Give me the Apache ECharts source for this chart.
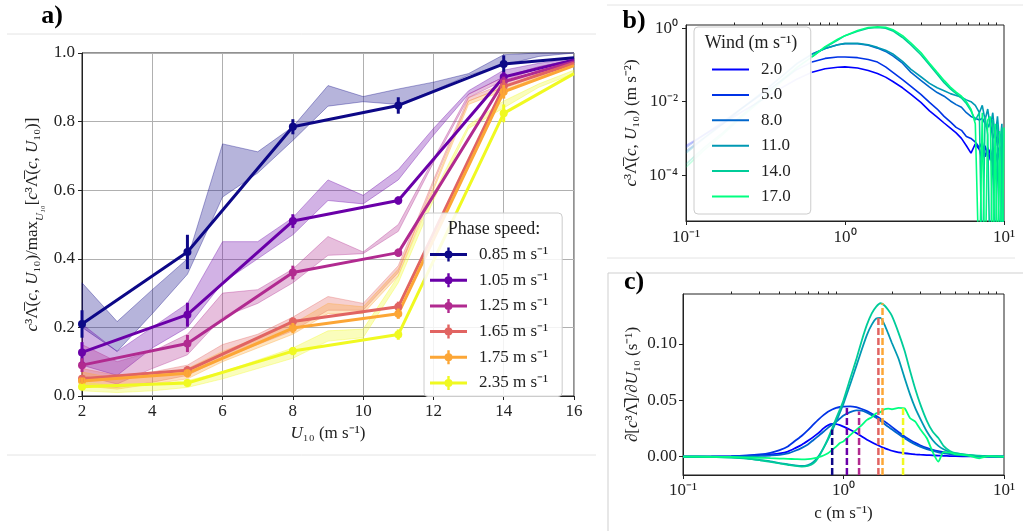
<!DOCTYPE html>
<html>
<head>
<meta charset="UTF-8">
<title>Breaking spectra vs wind</title>
<script src="https://cdn.jsdelivr.net/npm/echarts@6/dist/echarts.min.js"></script>
<style>
  html, body { margin: 0; padding: 0; background: #fff; }
  #main { width: 1023px; height: 531px; }
</style>
</head>
<body>
<div id="main"></div>
<script type="text/javascript">
var FONT = 'Liberation Serif';
var TXT = '#222';
var LAM = '\u039B\u0305';

// ---------- panel a: normalised c^3 Lambda against U10 ----------
var windPts = [2, 5, 8, 11, 14, 16];
var bandX = [2, 3, 4, 5, 6, 7, 8, 9, 10, 11, 12, 13, 14, 15, 16];
var phaseNames = ['0.85 m s⁻¹', '1.05 m s⁻¹', '1.25 m s⁻¹', '1.65 m s⁻¹', '1.75 m s⁻¹', '2.35 m s⁻¹'];
var phaseColors = ['#0d0887', '#6a00a8', '#b12a90', '#e16462', '#fca636', '#f0f921'];

var mean085 = [0.21, 0.42, 0.785, 0.847, 0.968, 0.986];
var mean105 = [0.127, 0.237, 0.51, 0.57, 0.93, 0.98];
var mean125 = [0.09, 0.153, 0.36, 0.418, 0.916, 0.975];
var mean165 = [0.05, 0.075, 0.217, 0.26, 0.902, 0.97];
var mean175 = [0.044, 0.066, 0.198, 0.24, 0.887, 0.963];
var mean235 = [0.027, 0.038, 0.131, 0.179, 0.824, 0.94];

var err085 = [0.04, 0.05, 0.022, 0.024, 0.025, 0];
var err105 = [0.03, 0.035, 0.02, 0.012, 0.015, 0];
var err125 = [0.02, 0.025, 0.02, 0.012, 0.015, 0];
var err165 = [0.01, 0.012, 0.012, 0.015, 0.02, 0];
var err175 = [0.01, 0.012, 0.015, 0.015, 0.02, 0];
var err235 = [0.008, 0.01, 0.012, 0.015, 0.026, 0];

var lo085 = [0.20, 0.13, 0.24, 0.355, 0.58, 0.65, 0.745, 0.845, 0.858, 0.85, 0.89, 0.935, 0.965, 0.99, 1.0];
var hi085 = [0.33, 0.217, 0.31, 0.40, 0.735, 0.712, 0.785, 0.905, 0.873, 0.895, 0.915, 0.94, 0.995, 1.0, 1.0];
var lo105 = [0.09, 0.06, 0.14, 0.20, 0.33, 0.40, 0.47, 0.57, 0.56, 0.63, 0.76, 0.88, 0.93, 0.96, 0.98];
var hi105 = [0.21, 0.13, 0.20, 0.27, 0.45, 0.45, 0.52, 0.63, 0.585, 0.66, 0.78, 0.89, 0.95, 0.97, 0.985];
var lo125 = [0.06, 0.035, 0.08, 0.12, 0.23, 0.27, 0.33, 0.41, 0.415, 0.48, 0.68, 0.87, 0.92, 0.955, 0.975];
var hi125 = [0.15, 0.10, 0.13, 0.18, 0.30, 0.31, 0.37, 0.465, 0.42, 0.50, 0.69, 0.88, 0.93, 0.96, 0.98];
var lo165 = [0.03, 0.025, 0.04, 0.06, 0.11, 0.15, 0.19, 0.25, 0.25, 0.36, 0.62, 0.86, 0.90, 0.94, 0.97];
var hi165 = [0.08, 0.06, 0.07, 0.09, 0.15, 0.18, 0.23, 0.29, 0.27, 0.38, 0.63, 0.87, 0.91, 0.95, 0.975];
var lo175 = [0.03, 0.02, 0.035, 0.05, 0.10, 0.14, 0.18, 0.24, 0.24, 0.35, 0.60, 0.85, 0.89, 0.93, 0.965];
var hi175 = [0.07, 0.05, 0.06, 0.08, 0.13, 0.17, 0.21, 0.27, 0.26, 0.37, 0.61, 0.86, 0.90, 0.94, 0.97];
var lo235 = [0.015, 0.01, 0.015, 0.025, 0.05, 0.08, 0.11, 0.16, 0.17, 0.33, 0.57, 0.78, 0.84, 0.90, 0.94];
var hi235 = [0.04, 0.03, 0.035, 0.045, 0.07, 0.105, 0.14, 0.19, 0.195, 0.35, 0.59, 0.79, 0.86, 0.91, 0.95];

// ---------- panel b: c^3 Lambda spectra (log10 of value) ----------
var windNames = ['2.0', '5.0', '8.0', '11.0', '14.0', '17.0'];
var windColors = ['#0000ff', '#0033e6', '#0066cc', '#0099b3', '#00cc99', '#00ff80'];
var cSpec = [0.1, 0.13, 0.17, 0.22, 0.3, 0.4, 0.5, 0.62, 0.75, 0.9, 1.0, 1.2, 1.4, 1.6, 1.8, 2.0, 2.3, 2.6, 3.0, 3.4,
             3.8, 4.2, 4.6, 5.0, 5.4, 5.8, 6.2, 6.6, 7.0, 7.3, 7.6, 7.9, 8.2, 8.5, 8.8, 9.1, 9.4, 9.7, 10];
var fadeEnd = 7; // points up to c = 0.62 are drawn faded
var logSpec2 = [-3.2, -2.9, -2.6, -2.3, -1.95, -1.62, -1.38, -1.2, -1.1, -1.06, -1.05, -1.08, -1.15, -1.23, -1.33, -1.45, -1.62, -1.8, -2.02, -2.25,
                -2.42, -2.58, -2.72, -2.85, -3.0, -3.2, -3.4, -3.15, -3.3, -3.6, -3.2, -3.5, -3.3, -3.8, -3.4, -3.6, -3.3, -3.9, -7];
var logSpec5 = [-3.25, -2.9, -2.55, -2.2, -1.8, -1.42, -1.12, -0.92, -0.82, -0.78, -0.78, -0.8, -0.85, -0.92, -1.05, -1.2, -1.4, -1.58, -1.8, -2.02,
                -2.2, -2.4, -2.55, -2.7, -2.78, -2.95, -3.0, -3.1, -3.25, -3.1, -3.5, -3.25, -3.6, -3.3, -3.7, -3.4, -3.2, -3.5, -7];
var logSpec8 = [-3.35, -2.98, -2.6, -2.2, -1.75, -1.3, -0.95, -0.7, -0.55, -0.45, -0.42, -0.42, -0.46, -0.54, -0.63, -0.75, -0.95, -1.2, -1.42, -1.6,
                -1.75, -1.85, -1.98, -2.08, -2.15, -2.3, -2.4, -2.45, -2.5, -2.45, -2.6, -2.7, -2.55, -3.0, -2.8, -3.2, -2.9, -7, -7];
var logSpec11 = [-3.4, -3.0, -2.62, -2.22, -1.77, -1.32, -0.97, -0.71, -0.55, -0.45, -0.41, -0.41, -0.45, -0.52, -0.6, -0.7, -0.9, -1.12, -1.32, -1.5,
                 -1.62, -1.7, -1.78, -1.83, -1.88, -1.95, -2.0, -2.1, -2.3, -2.1, -2.5, -2.2, -2.7, -2.3, -3.0, -2.4, -3.2, -2.6, -7];
var logSpec14 = [-3.7, -3.25, -2.85, -2.4, -1.9, -1.4, -1.05, -0.78, -0.52, -0.32, -0.2, -0.08, 0.0, 0.02, 0.0, -0.07, -0.25, -0.45, -0.72, -1.0,
                 -1.25, -1.48, -1.65, -1.78, -1.9, -2.05, -2.25, -2.5, -2.3, -7, -2.4, -2.9, -7, -2.5, -7, -2.6, -7, -2.7, -7];
var logSpec17 = [-3.78, -3.32, -2.9, -2.45, -1.95, -1.45, -1.08, -0.78, -0.5, -0.3, -0.2, -0.06, 0.02, 0.04, 0.03, -0.04, -0.2, -0.4, -0.66, -0.95,
                 -1.2, -1.42, -1.6, -1.74, -1.85, -2.0, -2.2, -2.6, -7, -2.3, -7, -2.5, -2.4, -7, -2.6, -7, -2.8, -7, -2.7];

// ---------- panel c: derivative with respect to U10 ----------
var cDer = [0.1, 0.15, 0.2, 0.25, 0.3, 0.35, 0.4, 0.45, 0.5, 0.55, 0.6, 0.65, 0.7, 0.75, 0.8, 0.85, 0.9, 0.95, 1.0,
            1.1, 1.2, 1.3, 1.4, 1.5, 1.6, 1.7, 1.8, 1.9, 2.0, 2.2, 2.4, 2.6, 2.8, 3.0, 3.3, 3.6, 3.9, 4.2, 4.6, 5.0, 6.0, 7.0, 8.0, 10];
var der2 = [0, 0, 0.0003, 0.0007, 0.0012, 0.002, 0.0029, 0.0045, 0.0075, 0.0105, 0.014, 0.0175, 0.021, 0.025, 0.0278, 0.029, 0.0289, 0.028, 0.0266,
            0.0238, 0.021, 0.0178, 0.015, 0.0127, 0.0107, 0.009, 0.0075, 0.0063, 0.0052, 0.0038, 0.003, 0.0024, 0.002, 0.0017, 0.0014, 0.0011, 0.0009, 0.0007, 0.0005, 0.0004, 0.0002, 0.0001, 0, 0];
var der5 = [0, 0.0001, 0.0004, 0.001, 0.0019, 0.0034, 0.0058, 0.009, 0.014, 0.0185, 0.0235, 0.0285, 0.033, 0.0368, 0.0398, 0.0418, 0.0432, 0.044, 0.0444,
            0.0446, 0.0438, 0.0422, 0.0403, 0.038, 0.036, 0.0336, 0.0311, 0.0288, 0.0264, 0.0218, 0.0178, 0.0148, 0.0122, 0.0101, 0.0077, 0.006, 0.0048, 0.004, 0.003, 0.0021, 0.001, 0.0005, 0.0002, 0];
var der8 = [0, 0, 0.0001, 0.0003, 0.0006, 0.001, 0.0015, 0.0028, 0.0052, 0.0078, 0.0108, 0.0148, 0.0185, 0.022, 0.0255, 0.0285, 0.031, 0.0338, 0.0364,
            0.0395, 0.041, 0.0408, 0.039, 0.0368, 0.0345, 0.0318, 0.029, 0.0264, 0.0242, 0.02, 0.0163, 0.0133, 0.0108, 0.0088, 0.0066, 0.005, 0.0038, 0.003, 0.0022, 0.0016, 0.0007, 0.0003, 0.0001, 0];
var der11 = [0, -0.0002, -0.0007, -0.0015, -0.003, -0.0042, -0.0057, -0.0068, -0.0078, -0.0083, -0.0075, -0.0048, 0.0005, 0.0075, 0.015, 0.023, 0.031, 0.039, 0.047,
             0.064, 0.08, 0.095, 0.108, 0.117, 0.1225, 0.123, 0.117, 0.109, 0.101, 0.087, 0.07, 0.055, 0.043, 0.034, 0.0225, 0.0145, 0.0095, 0.0065, 0.004, 0.0028, 0.0012, 0.0005, 0.0002, 0];
var der14 = [0, -0.0003, -0.0009, -0.0018, -0.0032, -0.0046, -0.006, -0.0072, -0.0083, -0.0089, -0.0082, -0.006, -0.0005, 0.0075, 0.016, 0.025, 0.034, 0.042, 0.05,
             0.069, 0.086, 0.103, 0.117, 0.127, 0.133, 0.136, 0.134, 0.13, 0.125, 0.11, 0.094, 0.076, 0.06, 0.047, 0.032, 0.022, 0.0165, 0.0095, 0.005, 0.003, 0.0015, 0.0008, 0.0003, 0];
var der17 = [0, -0.0001, -0.0003, -0.0006, -0.001, -0.0014, -0.0017, -0.002, -0.0022, -0.0024, -0.0022, -0.0016, -0.0005, 0.001, 0.003, 0.006, 0.0089, 0.012, 0.0135,
             0.019, 0.0237, 0.028, 0.0326, 0.035, 0.0385, 0.0395, 0.042, 0.0425, 0.042, 0.0432, 0.0428, 0.034, 0.031, 0.0245, 0.0165, 0.004, -0.0045, 0.004, 0.0035, 0.002, 0.001, -0.0015, 0.0005, 0];
var phaseSpeeds = [0.85, 1.05, 1.25, 1.65, 1.75, 2.35];
var phasePeaks = [0.024, 0.0444, 0.040, 0.123, 0.136, 0.043];

var cMinY = -0.0163;

// ---------- build ----------
var means = [mean085, mean105, mean125, mean165, mean175, mean235];
var errs = [err085, err105, err125, err165, err175, err235];
var los = [lo085, lo105, lo125, lo165, lo175, lo235];
var his = [hi085, hi105, hi125, hi165, hi175, hi235];
var specs = [logSpec2, logSpec5, logSpec8, logSpec11, logSpec14, logSpec17];
var ders = [der2, der5, der8, der11, der14, der17];

function sup(n) {
  var m = {'-': '⁻', '0': '⁰', '1': '¹', '2': '²', '3': '³', '4': '⁴', '5': '⁵', '6': '⁶'};
  return String(n).split('').map(function (ch) { return m[ch] || ch; }).join('');
}
function rgba(hex, a) {
  var n = parseInt(hex.slice(1), 16);
  return 'rgba(' + (n >> 16) + ',' + ((n >> 8) & 255) + ',' + (n & 255) + ',' + a + ')';
}
var minorLog = [];
[-1, 0].forEach(function (k) {
  for (var m = 2; m <= 9; m++) minorLog.push(k + Math.log10(m));
});

var series = [];
// uncertainty bands (polygon between lower and upper edges)
for (var k = 0; k < 6; k++) {
  (function (k) {
    var col = phaseColors[k];
    series.push({
      type: 'custom', name: 'band-' + k, xAxisIndex: 0, yAxisIndex: 0, z: 1, silent: true,
      data: [[bandX[0], los[k][0]]],
      renderItem: function (params, api) {
        var pts = [];
        for (var i = 0; i < bandX.length; i++) pts.push(api.coord([bandX[i], his[k][i]]));
        for (var j = bandX.length - 1; j >= 0; j--) pts.push(api.coord([bandX[j], los[k][j]]));
        return {type: 'polygon', shape: {points: pts},
                style: {fill: rgba(col, 0.3), stroke: rgba(col, 0.35), lineWidth: 1}};
      }
    });
  })(k);
}
for (var k = 0; k < 6; k++) {
  (function (k) {
    var col = phaseColors[k];
    series.push({
      type: 'line', name: phaseNames[k], xAxisIndex: 0, yAxisIndex: 0, z: 3,
      data: windPts.map(function (x, i) { return [x, means[k][i]]; }),
      symbol: 'circle',
      symbolSize: function (v, p) { return p.dataIndex === windPts.length - 1 ? 0 : 8; },
      lineStyle: {color: col, width: 3},
      itemStyle: {color: col}
    });
    series.push({
      type: 'custom', name: 'err-' + k, xAxisIndex: 0, yAxisIndex: 0, z: 4, silent: true,
      data: windPts.map(function (x, i) { return [x, means[k][i], errs[k][i]]; }),
      renderItem: function (params, api) {
        var x = api.value(0), y = api.value(1), e = api.value(2);
        var p1 = api.coord([x, y - e]), p2 = api.coord([x, y + e]);
        return {type: 'line', shape: {x1: p1[0], y1: p1[1], x2: p2[0], y2: p2[1]},
                style: {stroke: col, lineWidth: 3}};
      }
    });
  })(k);
}
// panel b spectra
for (var w = 0; w < 6; w++) {
  var pts = cSpec.map(function (c, i) { return [Math.log10(c), specs[w][i]]; });
  series.push({
    type: 'line', name: windNames[w] + ' low', xAxisIndex: 1, yAxisIndex: 1, silent: true,
    data: pts.slice(0, fadeEnd + 1), symbol: 'none',
    lineStyle: {color: windColors[w], width: 1.6, opacity: 0.22}
  });
  series.push({
    type: 'line', name: windNames[w], xAxisIndex: 1, yAxisIndex: 1,
    data: pts.slice(fadeEnd), symbol: 'none',
    itemStyle: {color: windColors[w]},
    lineStyle: {color: windColors[w], width: 1.6}
  });
}
// panel c derivatives
for (var w = 0; w < 6; w++) {
  series.push({
    type: 'line', name: 'd' + windNames[w], xAxisIndex: 3, yAxisIndex: 2, silent: true,
    data: cDer.map(function (c, i) { return [Math.log10(c), ders[w][i]]; }),
    symbol: 'none', smooth: 0.2, z: 2,
    lineStyle: {color: windColors[w], width: 1.8}
  });
}
for (var k = 0; k < 6; k++) {
  var lc = Math.log10(phaseSpeeds[k]);
  series.push({
    type: 'line', name: 'phase-' + k, xAxisIndex: 3, yAxisIndex: 2, silent: true, z: 5,
    data: [[lc, cMinY], [lc, phasePeaks[k]]], symbol: 'none',
    lineStyle: {color: phaseColors[k], width: 2.5, type: [7, 3]}
  });
}

var axisLineStyle = {show: true, onZero: false, lineStyle: {color: TXT, width: 1}};
var noLine = {show: false, onZero: false};
var labelStyle = {fontFamily: FONT, fontSize: 17, color: TXT};
function nameStyle() {
  return {fontFamily: FONT, fontSize: 17, color: TXT,
    rich: {i: {fontFamily: FONT, fontSize: 17, fontStyle: 'italic', color: TXT},
           s: {fontFamily: FONT, fontSize: 11, fontStyle: 'italic', color: TXT, verticalAlign: 'bottom', lineHeight: 26}}};
}

var gridBox = {show: true, borderColor: TXT, borderWidth: 1, backgroundColor: 'transparent'};

var option = {
  animation: false,
  backgroundColor: '#ffffff',
  textStyle: {fontFamily: FONT},
  grid: [
    Object.assign({left: 82, top: 53, width: 492, height: 343}, gridBox),
    Object.assign({left: 686, top: 25, width: 318, height: 196}, gridBox),
    Object.assign({left: 683, top: 294, width: 321, height: 181}, gridBox)
  ],
  xAxis: [
    {type: 'value', gridIndex: 0, min: 2, max: 16, interval: 2,
     axisLine: axisLineStyle, axisTick: {show: true, length: 4, lineStyle: {color: TXT}},
     axisLabel: Object.assign({margin: 7}, labelStyle),
     splitLine: {show: true, lineStyle: {color: '#b0b0b0', width: 1}},
     name: '{i|U}₁₀ (m s⁻¹)', nameLocation: 'middle', nameGap: 28, nameTextStyle: nameStyle()},
    {type: 'value', gridIndex: 1, min: -1, max: 1,
     axisLine: axisLineStyle, splitLine: {show: false},
     axisTick: {show: true, length: 4, customValues: [-1, 0, 1], lineStyle: {color: TXT}},
     axisLabel: Object.assign({margin: 8, customValues: [-1, 0, 1],
       formatter: function (v) { return '10' + sup(Math.round(v)); }}, labelStyle)},
    {type: 'value', gridIndex: 1, min: -1, max: 1,
     axisLine: noLine, splitLine: {show: false}, axisLabel: {show: false},
     axisTick: {show: true, length: 2.5, customValues: minorLog, lineStyle: {color: TXT}}},
    {type: 'value', gridIndex: 2, min: -1, max: 1,
     axisLine: axisLineStyle, splitLine: {show: false},
     axisTick: {show: true, length: 4, customValues: [-1, 0, 1], lineStyle: {color: TXT}},
     axisLabel: Object.assign({margin: 7, customValues: [-1, 0, 1],
       formatter: function (v) { return '10' + sup(Math.round(v)); }}, labelStyle),
     name: 'c (m s⁻¹)', nameLocation: 'middle', nameGap: 30, nameTextStyle: nameStyle()},
    {type: 'value', gridIndex: 2, min: -1, max: 1,
     axisLine: noLine, splitLine: {show: false}, axisLabel: {show: false},
     axisTick: {show: true, length: 2.5, customValues: minorLog, lineStyle: {color: TXT}}}
  ],
  yAxis: [
    {type: 'value', gridIndex: 0, min: 0, max: 1, interval: 0.2,
     axisLine: axisLineStyle, axisTick: {show: true, length: 4, lineStyle: {color: TXT}},
     axisLabel: Object.assign({margin: 7, formatter: function (v) { return v.toFixed(1); }}, labelStyle),
     splitLine: {show: true, lineStyle: {color: '#b0b0b0', width: 1}},
     name: '{i|c}³' + LAM + '({i|c}, {i|U}₁₀)/max{s|U₁₀}[{i|c}³' + LAM + '({i|c}, {i|U}₁₀)]',
     nameLocation: 'middle', nameGap: 36, nameRotate: 90, nameTextStyle: nameStyle()},
    {type: 'value', gridIndex: 1, min: -5.25, max: 0.09,
     axisLine: axisLineStyle, splitLine: {show: false},
     axisTick: {show: true, length: 4, customValues: [-4, -2, 0], lineStyle: {color: TXT}},
     axisLabel: Object.assign({margin: 8, customValues: [-4, -2, 0],
       formatter: function (v) { return '10' + sup(Math.round(v)); }}, labelStyle),
     name: '{i|c}³' + LAM + '({i|c}, {i|U}₁₀) (m s⁻²)',
     nameLocation: 'middle', nameGap: 46, nameRotate: 90, nameTextStyle: nameStyle()},
    {type: 'value', gridIndex: 2, min: cMinY, max: 0.1442,
     axisLine: axisLineStyle, splitLine: {show: false},
     axisTick: {show: true, length: 4, customValues: [0, 0.05, 0.1], lineStyle: {color: TXT}},
     axisLabel: Object.assign({margin: 6, customValues: [0, 0.05, 0.1],
       formatter: function (v) { return v.toFixed(2); }}, labelStyle),
     name: '∂[{i|c}³' + LAM + ']/∂{i|U}₁₀ (s⁻¹)',
     nameLocation: 'middle', nameGap: 42, nameRotate: 90, nameTextStyle: nameStyle()}
  ],
  legend: [
    {data: phaseNames, orient: 'vertical', left: 424, top: 213, selectedMode: false, z: 10,
     icon: 'path://M0,5.5 L37,5.5 L37,8.5 L0,8.5 Z M17.3,0 L19.7,0 L19.7,14 L17.3,14 Z M14.5,7 A4,4 0 1,1 22.5,7 A4,4 0 1,1 14.5,7 Z',
     itemWidth: 37, itemHeight: 14, itemGap: 8.7,
     padding: [33, 14, 5, 6], backgroundColor: 'rgba(255,255,255,0.85)',
     borderColor: '#cccccc', borderWidth: 1, borderRadius: 4,
     textStyle: {fontFamily: FONT, fontSize: 17, color: TXT, padding: [0, 0, 0, 7]}},
    {data: windNames, orient: 'vertical', left: 694, top: 27, selectedMode: false, z: 10,
     icon: 'rect', itemWidth: 37, itemHeight: 2, itemGap: 8.4,
     padding: [34, 20, 9, 18], backgroundColor: 'rgba(255,255,255,0.85)',
     borderColor: '#cccccc', borderWidth: 1, borderRadius: 4,
     textStyle: {fontFamily: FONT, fontSize: 17, color: TXT, padding: [0, 0, 0, 7]}}
  ],
  graphic: [
    {type: 'line', z: 0, shape: {x1: 7, y1: 34, x2: 596, y2: 34}, style: {stroke: '#e4e4e4', lineWidth: 1}},
    {type: 'line', z: 0, shape: {x1: 7, y1: 455, x2: 596, y2: 455}, style: {stroke: '#e4e4e4', lineWidth: 1}},
    {type: 'line', z: 0, shape: {x1: 607, y1: 5, x2: 1023, y2: 5}, style: {stroke: '#e4e4e4', lineWidth: 1}},
    {type: 'line', z: 0, shape: {x1: 607, y1: 258, x2: 1015, y2: 258}, style: {stroke: '#e4e4e4', lineWidth: 1}},
    {type: 'line', z: 0, shape: {x1: 608, y1: 273, x2: 1023, y2: 273}, style: {stroke: '#cfcfcf', lineWidth: 1}},
    {type: 'line', z: 0, shape: {x1: 608, y1: 273, x2: 608, y2: 531}, style: {stroke: '#cfcfcf', lineWidth: 1}},
    {type: 'text', z: 100, x: 52, y: 16, style: {text: 'a)', fontFamily: FONT, fontSize: 26, fontWeight: 'bold', fill: '#000', align: 'center', verticalAlign: 'middle'}},
    {type: 'text', z: 100, x: 634, y: 21, style: {text: 'b)', fontFamily: FONT, fontSize: 26, fontWeight: 'bold', fill: '#000', align: 'center', verticalAlign: 'middle'}},
    {type: 'text', z: 100, x: 634, y: 282, style: {text: 'c)', fontFamily: FONT, fontSize: 26, fontWeight: 'bold', fill: '#000', align: 'center', verticalAlign: 'middle'}},
    {type: 'text', z: 100, x: 494, y: 229, style: {text: 'Phase speed:', fontFamily: FONT, fontSize: 18, fill: TXT, align: 'center', verticalAlign: 'middle'}},
    {type: 'text', z: 100, x: 751, y: 43, style: {text: 'Wind (m s⁻¹)', fontFamily: FONT, fontSize: 18, fill: TXT, align: 'center', verticalAlign: 'middle'}}
  ],
  series: series
};

var myChart = echarts.init(document.getElementById('main'));
myChart.setOption(option);
</script>
</body>
</html>
